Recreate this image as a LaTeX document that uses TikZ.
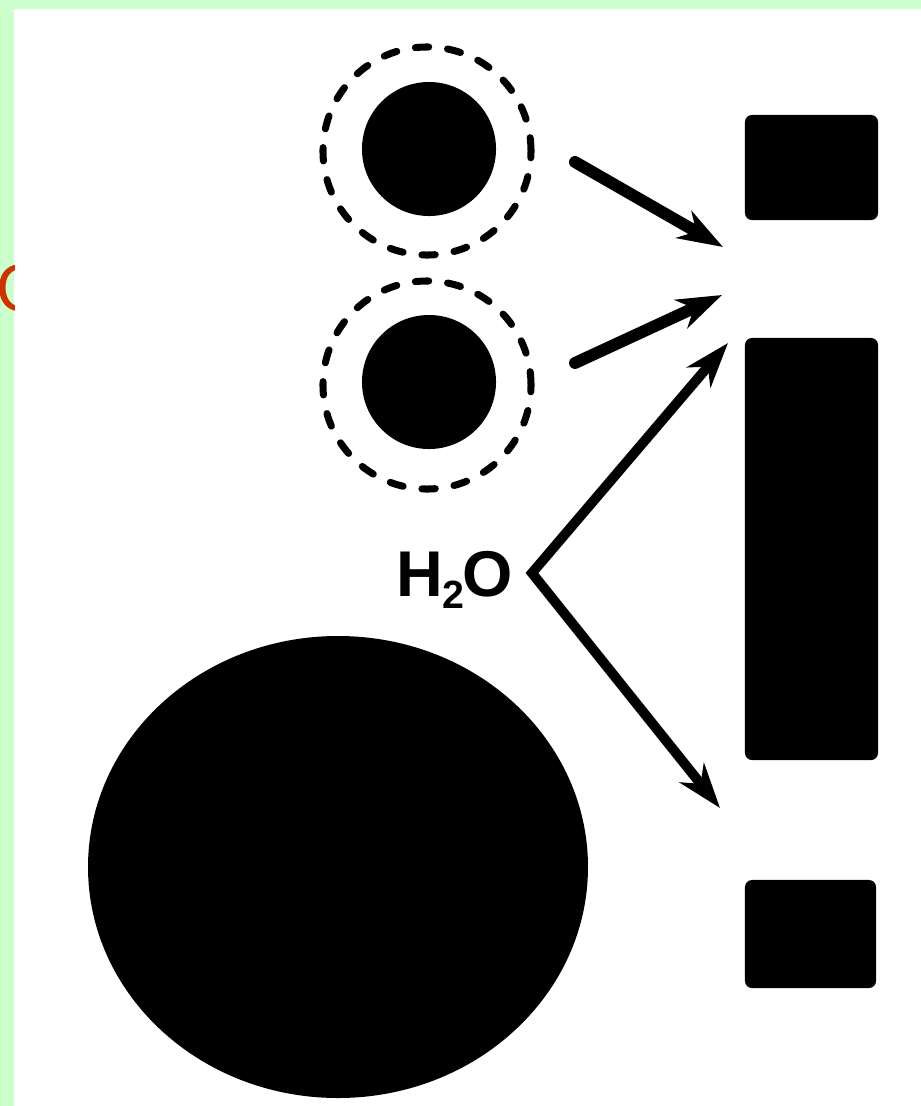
\documentclass[tikz,border=0pt]{standalone}
\usepackage{fontspec}
\setmainfont{Liberation Sans}
\usetikzlibrary{arrows.meta}
\definecolor{bggreen}{RGB}{204,255,204}
\definecolor{tagred}{RGB}{204,51,0}
\begin{document}
\begin{tikzpicture}[x=0.025cm, y=-0.025cm,
        >={Stealth[length=32pt, width=22pt, inset=10pt]},
        ring/.style={circle, draw, line width=5pt, dash pattern=on 9.5pt off 13.5pt, line cap=round, minimum size=5.2cm, inner sep=0pt},
        ball/.style={circle, fill=black, minimum size=3.35cm, inner sep=0pt},
        box/.style={fill=black, rounded corners=5pt, inner sep=0pt},
        flow/.style={line width=8.5pt, line cap=round, ->}]
        \useasboundingbox (0,0) rectangle (921,1106);
        \fill[bggreen] (0,0) rectangle (921,1106);
        \fill[white] (14,9) rectangle (921,1106);
        \begin{scope}
            \clip (0,0) rectangle (14,1106);
            \node[text=tagred, font=\fontsize{48}{48}\selectfont, anchor=west, inner sep=0pt] (tag) at (-4,288) {O};
        \end{scope}

        % particles with their dashed shells
        \node[ring] (R1) at (427,151) {};
        \node[ball] (P1) at (429,149) {};
        \node[ring] (R2) at (427,385) {};
        \node[ball] (P2) at (429,382) {};

        % big particle
        \fill (338,867) ellipse [x radius=250, y radius=231];

        % blocks on the right
        \node[box, minimum width=3.325cm, minimum height=2.625cm] (T) at (811.5,167.5) {};
        \node[box, minimum width=3.325cm, minimum height=10.55cm] (M) at (811.5,549) {};
        \node[box, minimum width=3.275cm, minimum height=2.7cm] (B) at (810.5,934) {};

        \node[font=\fontsize{46}{46}\selectfont\bfseries, inner sep=0pt] (W) at (455,580) {H\kern-1pt\raisebox{-0.35ex}{\fontsize{28}{28}\selectfont 2}\kern-1pt O};

        \coordinate (a1) at (575,162);
        \coordinate (b1) at (723,247);
        \coordinate (a2) at (575,363);
        \coordinate (b2) at (722,295);
        \coordinate (V) at (532,573);
        \coordinate (U) at (728,343);
        \coordinate (D) at (720,808);

        \draw[flow] (a1) -- (b1);
        \draw[flow] (a2) -- (b2);
        \draw[flow, <->, line width=7pt, line join=miter] (U) -- (V) -- (D);
    \end{tikzpicture}
\end{document}
